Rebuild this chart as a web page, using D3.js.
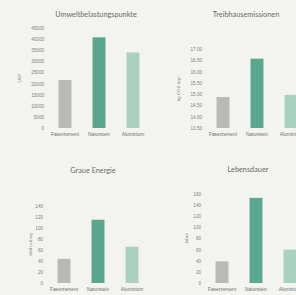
<!DOCTYPE html>
<html>
<head>
<meta charset="utf-8">
<script src="https://cdn.jsdelivr.net/npm/d3@7"></script>
<style>
  html, body { margin: 0; padding: 0; background: #f3f3f0; }
  svg { display: block; font-family: Lato, "Open Sans", sans-serif; }
</style>
</head>
<body>
<div id="chart"></div>
<script>
const categories = ['Faserzement', 'Naturstein', 'Aluminium'];
const barColors = ['#b9bab5', '#5ba68e', '#a9d0c0'];

const ubpValues = [21600, 40800, 34000];
const ubpTicks = [0, 5000, 10000, 15000, 20000, 25000, 30000, 35000, 40000, 45000];

const co2Values = [14.87, 16.57, 14.97];
const co2Ticks = [13.5, 14, 14.5, 15, 15.5, 16, 16.5, 17];

const energyValues = [44, 115, 66];
const energyTicks = [0, 20, 40, 60, 80, 100, 120, 140];

const lifeValues = [39, 153, 60];
const lifeTicks = [0, 20, 40, 60, 80, 100, 120, 140, 160];

const svg = d3.select('#chart').append('svg')
  .attr('width', 296)
  .attr('height', 295);

// one small bar chart per panel
function drawPanel(opt) {
  const g = svg.append('g');

  const x = d3.scaleBand()
    .domain(categories)
    .range(opt.xRange)
    .paddingInner(0.62)
    .paddingOuter(0.31);

  const y = d3.scaleLinear()
    .domain(opt.domain)
    .range(opt.yRange);

  g.append('text')
    .attr('x', opt.titleX)
    .attr('y', opt.titleY)
    .attr('text-anchor', 'middle')
    .attr('font-size', '7.3px')
    .attr('fill', '#6a6a67')
    .text(opt.title);

  const yAxis = g.append('g')
    .attr('transform', `translate(${opt.xRange[0] - 1},0)`)
    .call(d3.axisLeft(y).tickValues(opt.ticks).tickSize(0).tickPadding(3).tickFormat(opt.format));
  yAxis.select('.domain').remove();
  yAxis.selectAll('text').attr('font-size', '4.6px').attr('fill', '#808080').attr('font-family', null);

  g.append('text')
    .attr('transform', `translate(${opt.labelX},${(opt.yRange[0] + opt.yRange[1]) / 2}) rotate(-90)`)
    .attr('text-anchor', 'middle')
    .attr('font-size', '4.6px')
    .attr('fill', '#808080')
    .text(opt.unit);

  g.selectAll('.bar')
    .data(opt.values)
    .enter().append('rect')
    .attr('x', (d, i) => x(categories[i]))
    .attr('y', d => y(d))
    .attr('width', x.bandwidth())
    .attr('height', d => y(opt.domain[0]) - y(d))
    .attr('fill', (d, i) => barColors[i]);

  const xAxis = g.append('g')
    .attr('transform', `translate(0,${opt.yRange[0]})`)
    .call(d3.axisBottom(x).tickSize(0).tickPadding(5));
  xAxis.select('.domain').remove();
  xAxis.selectAll('text').attr('font-size', '4.8px').attr('fill', '#6e6e6e').attr('font-family', null);
}

drawPanel({
  title: 'Umweltbelastungspunkte', titleX: 96, titleY: 17,
  values: ubpValues, ticks: ubpTicks, domain: [0, 45000],
  xRange: [48, 150], yRange: [128, 28], unit: 'UBP', labelX: 21,
  format: d3.format('d')
});

drawPanel({
  title: 'Treibhausemissionen', titleX: 246, titleY: 17,
  values: co2Values, ticks: co2Ticks, domain: [13.5, 17],
  xRange: [206, 308], yRange: [128, 49], unit: 'kg CO2-äqv.', labelX: 180,
  format: d3.format('.2f')
});

drawPanel({
  title: 'Graue Energie', titleX: 93, titleY: 173,
  values: energyValues, ticks: energyTicks, domain: [0, 140],
  xRange: [47, 149], yRange: [283, 206], unit: 'kWh oil-eq', labelX: 32,
  format: d3.format('d')
});

drawPanel({
  title: 'Lebensdauer', titleX: 248, titleY: 172,
  values: lifeValues, ticks: lifeTicks, domain: [0, 160],
  xRange: [205, 307], yRange: [283, 194], unit: 'Jahre', labelX: 188,
  format: d3.format('d')
});
</script>
</body>
</html>
